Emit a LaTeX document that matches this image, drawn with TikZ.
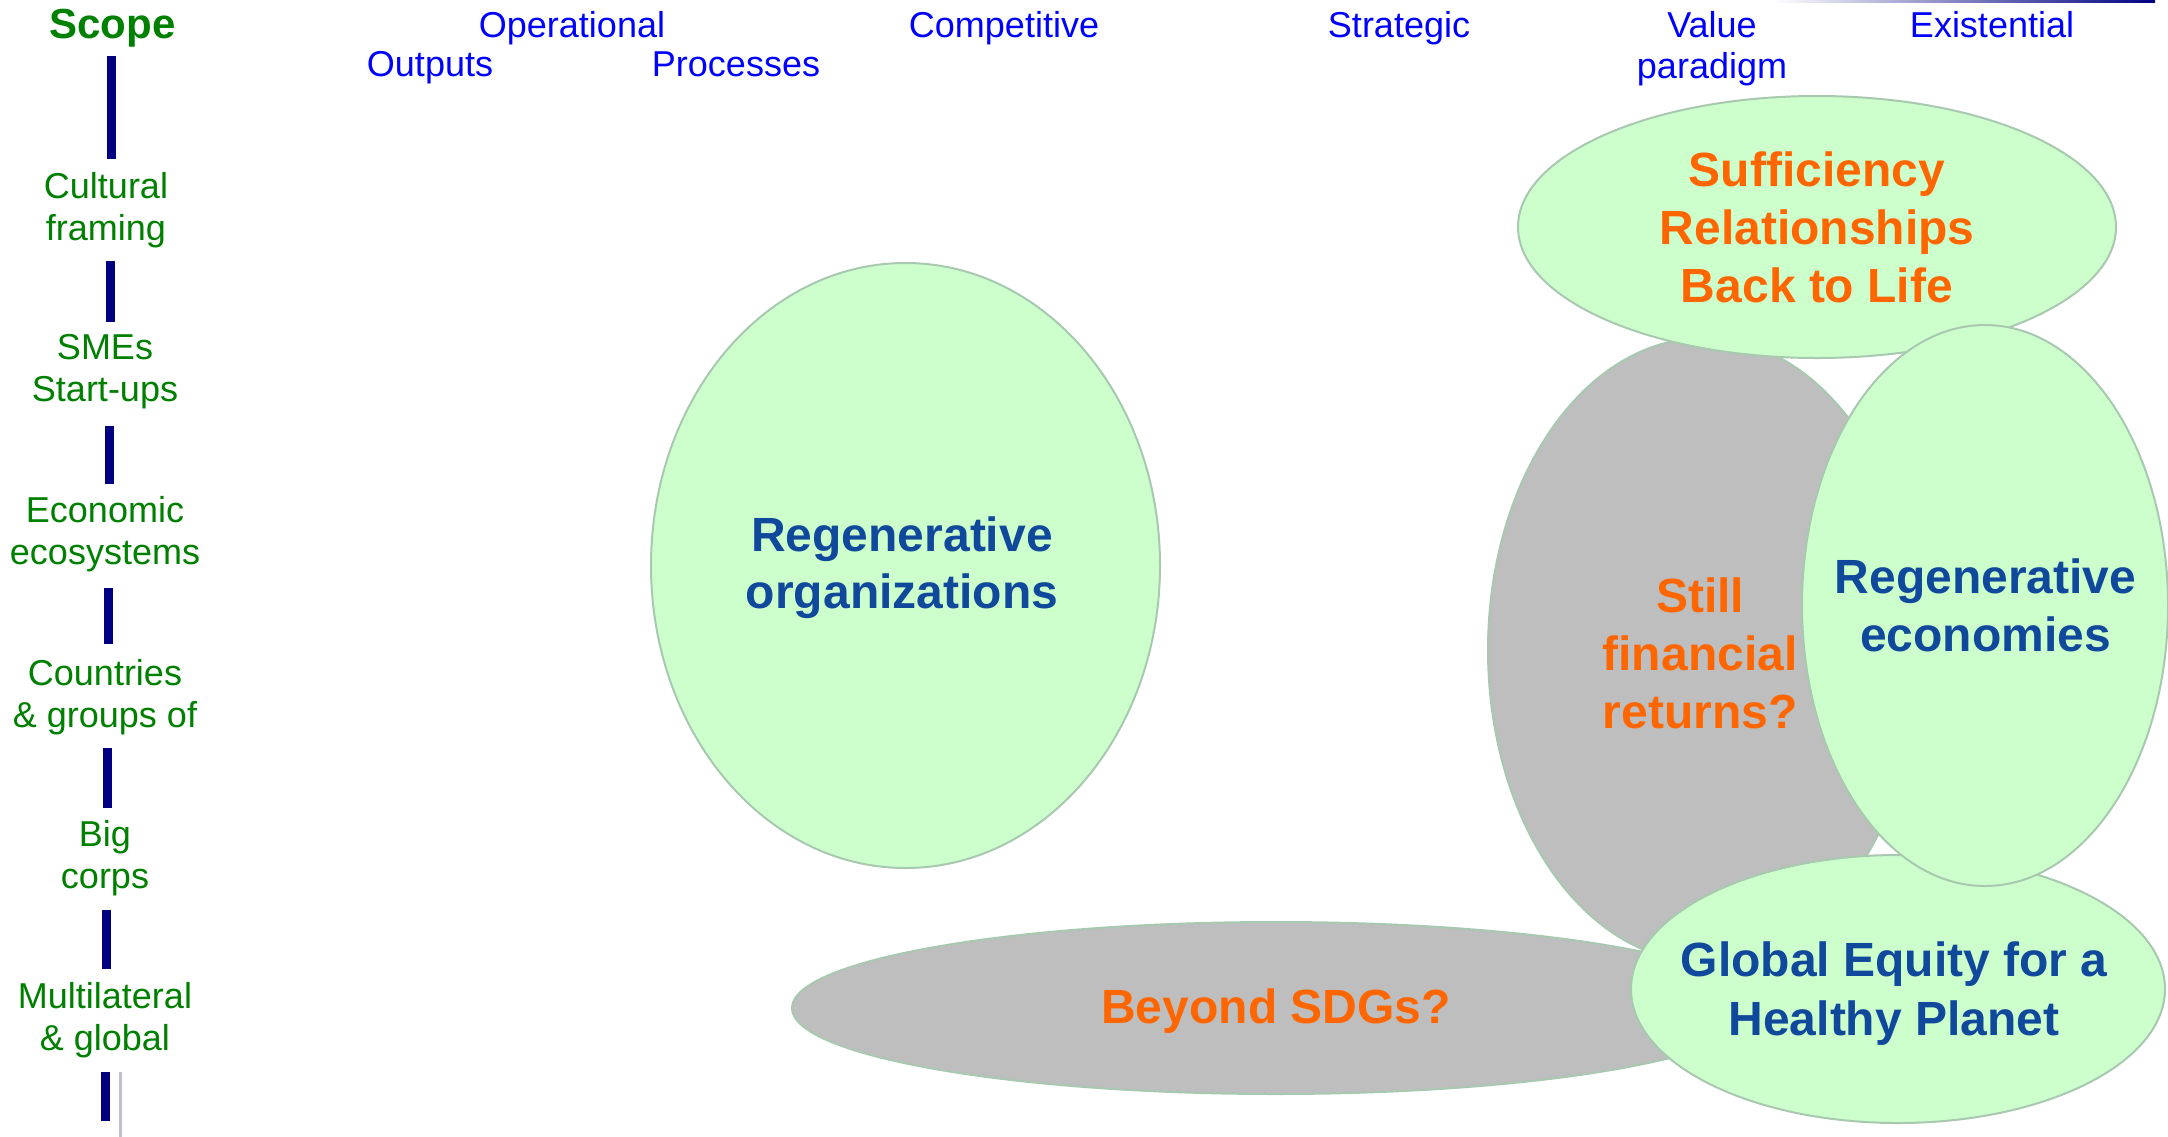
\documentclass[tikz,border=0pt]{standalone}
\usepackage{fontspec}
\setmainfont{Liberation Sans}
\definecolor{scopegreen}{RGB}{0,128,0}
\definecolor{barnavy}{RGB}{0,0,128}
\definecolor{topblue}{RGB}{0,0,255}
\definecolor{ellgreen}{RGB}{204,255,204}
\definecolor{ellgray}{RGB}{190,190,190}
\definecolor{elledge}{RGB}{168,200,176}
\definecolor{hotorange}{RGB}{255,102,0}
\definecolor{deepblue}{RGB}{16,72,156}
\definecolor{thingray}{RGB}{192,192,200}
\begin{document}
\begin{tikzpicture}[x=1pt,y=-1pt,
  toplab/.style={font=\fontsize{36}{41}\selectfont, text=topblue, inner sep=0pt, align=center},
  leftlab/.style={font=\fontsize{36}{42}\selectfont, text=scopegreen, inner sep=0pt, align=center},
  scopelab/.style={font=\fontsize{42}{48}\selectfont\bfseries, text=scopegreen, inner sep=0pt},
  bar/.style={draw=barnavy, line width=9pt},
  greenell/.style={fill=ellgreen, draw=elledge, line width=2pt},
  grayell/.style={fill=ellgray, draw=elledge, line width=2pt},
  orangetext/.style={font=\fontsize{48}{58}\selectfont\bfseries, text=hotorange, inner sep=0pt, align=center},
  bluetext/.style={font=\fontsize{48}{58}\selectfont\bfseries, text=deepblue, inner sep=0pt, align=center}
]
\useasboundingbox (0,0) rectangle (2168,1136);
\fill[white] (0,0) rectangle (2168,1136);

% thin gradient line at top right
\shade[left color=white, right color=barnavy] (1773,0) rectangle (2155,2.5);

% scope column
\node[scopelab, anchor=base] (scope) at (112.5,38) {Scope};
\node[leftlab] (cult) at (106,210) {Cultural\\framing};
\node[leftlab] (smes) at (105,372) {SMEs\\Start-ups};
\node[leftlab] (econ) at (105,534) {Economic\\ecosystems};
\node[leftlab] (ctry) at (105,697) {Countries\\\& groups of};
\node[leftlab] (bigc) at (105,858) {Big\\corps};
\node[leftlab] (mult) at (105,1020) {Multilateral\\\& global};

\draw[bar] (111.3,56) -- (111.3,159);
\draw[bar] (110.5,261) -- (110.5,322);
\draw[bar] (109.6,426) -- (109.6,484);
\draw[bar] (108.7,588) -- (108.7,644);
\draw[bar] (107.8,748) -- (107.8,808);
\draw[bar] (106.6,910) -- (106.6,969);
\draw[bar] (105.7,1072) -- (105.7,1121);
\draw[thingray, line width=2.5pt] (120.5,1072) -- (120.5,1140);

% top labels
\node[toplab, anchor=base] (oper) at (572,37) {Operational};
\node[toplab, anchor=base] (outp) at (430,76) {Outputs};
\node[toplab, anchor=base] (proc) at (736,76) {Processes};
\node[toplab, anchor=base] (comp) at (1004,37) {Competitive};
\node[toplab, anchor=base] (strat) at (1399,37) {Strategic};
\node[toplab] (value) at (1712,48.3) {Value\\paradigm};
\node[toplab, anchor=base] (exist) at (1992,37) {Existential};

% ellipses and their texts
\path[greenell] (905.5,565.5) ellipse [x radius=254.5pt, y radius=302.5pt];
\node[bluetext, font=\fontsize{48}{57}\selectfont\bfseries] (regorg) at (902,568) {Regenerative\\organizations};

\path[grayell] (1276,1008) ellipse [x radius=484pt, y radius=86pt];
\node[orangetext, anchor=base] (sdgs) at (1276,1023) {Beyond SDGs?};

\path[grayell] (1704,650) ellipse [x radius=216pt, y radius=312pt];
\node[orangetext] (still) at (1700,653) {Still\\financial\\returns?};

\path[greenell] (1817,227) ellipse [x radius=299pt, y radius=131pt];
\node[orangetext] (suff) at (1817,227) {Sufficiency\\Relationships\\Back to Life};

\path[greenell] (1898,989) ellipse [x radius=267pt, y radius=134pt];
\node[bluetext, font=\fontsize{48}{59}\selectfont\bfseries] (equity) at (1894,994) {Global Equity for a\\Healthy Planet};

\path[greenell] (1985,605.5) ellipse [x radius=183pt, y radius=280.5pt];
\node[bluetext] (regecon) at (1985.5,605.5) {Regenerative\\economies};
\end{tikzpicture}
\end{document}
